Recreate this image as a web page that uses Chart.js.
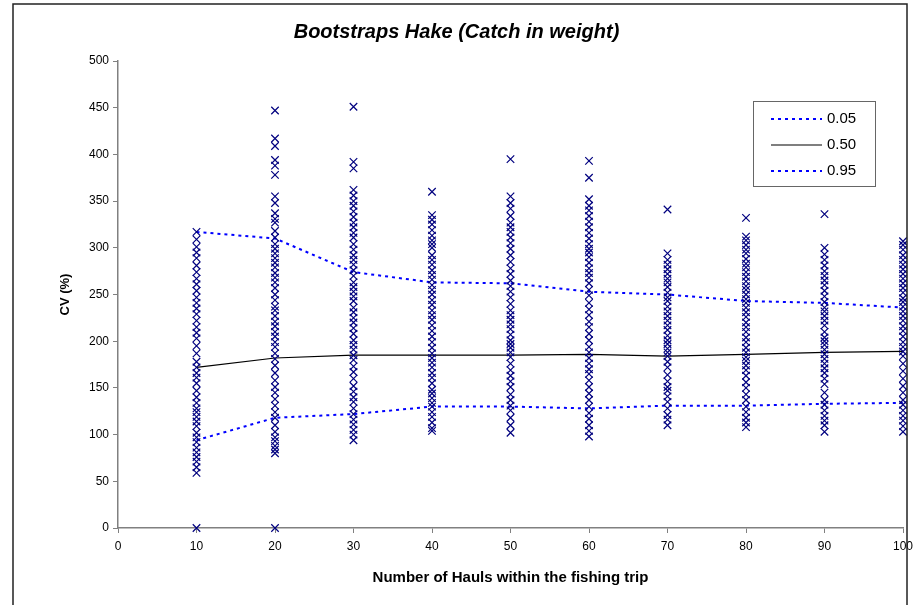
<!DOCTYPE html>
<html>
<head>
<meta charset="utf-8">
<script src="https://cdn.jsdelivr.net/npm/chart.js@4.4.1/dist/chart.umd.min.js"></script>
<style>
  html, body { margin: 0; padding: 0; background: #ffffff; }
  #wrap { width: 914px; height: 605px; position: relative; }
</style>
</head>
<body>
<div id="wrap"><canvas id="cv"></canvas></div>
<script>
const FONT = "'Liberation Sans', Arial, sans-serif";

// Number of hauls (x categories)
const hauls = [10, 20, 30, 40, 50, 60, 70, 80, 90, 100];

// Quantile lines (CV %)
const q05 = [94, 118, 122, 130, 130, 128, 131, 131, 133, 134];
const q50 = [172, 182, 185, 185, 185, 186, 184, 186, 188, 189];
const q95 = [317, 310, 274, 263, 262, 253, 250, 243, 241, 236];

// Bootstrap CV samples for each number of hauls
const cv10 = [0, 59, 65, 71, 76, 81, 86, 92, 97, 102, 109, 114, 119, 124, 128, 134, 140, 147, 155, 161, 166, 172, 178, 187, 195, 203, 209, 215, 222, 229, 235, 241, 247, 254, 261, 267, 274, 281, 289, 295, 301, 309, 317];
const cv20 = [0, 80, 84, 88, 93, 97, 103, 110, 118, 124, 131, 138, 145, 151, 158, 166, 174, 181, 187, 194, 199, 205, 210, 216, 221, 227, 233, 237, 244, 250, 257, 263, 268, 273, 279, 284, 289, 294, 299, 304, 311, 318, 327, 331, 337, 348, 355, 378, 388, 394, 409, 417, 447];
const cv30 = [94, 100, 105, 111, 116, 122, 128, 135, 140, 146, 152, 160, 167, 173, 180, 185, 191, 196, 201, 208, 214, 220, 225, 231, 236, 243, 248, 253, 258, 263, 270, 276, 282, 287, 292, 298, 304, 311, 316, 322, 327, 333, 339, 345, 350, 356, 362, 385, 392, 451];
const cv40 = [104, 107, 113, 119, 124, 130, 134, 139, 144, 148, 155, 161, 166, 172, 177, 182, 187, 193, 199, 205, 211, 217, 223, 228, 233, 239, 244, 250, 255, 260, 266, 271, 276, 282, 287, 292, 300, 304, 308, 313, 319, 325, 330, 335, 360];
const cv50 = [102, 110, 118, 126, 131, 137, 143, 151, 157, 163, 169, 176, 183, 188, 193, 197, 201, 207, 213, 218, 223, 228, 233, 240, 247, 253, 259, 265, 272, 278, 285, 292, 299, 305, 311, 317, 322, 327, 334, 342, 348, 355, 395];
const cv60 = [98, 104, 110, 117, 123, 130, 137, 144, 151, 158, 165, 170, 176, 182, 188, 194, 201, 208, 215, 221, 228, 234, 241, 249, 255, 262, 268, 273, 278, 284, 290, 295, 299, 304, 310, 316, 322, 328, 334, 340, 345, 352, 375, 393];
const cv70 = [110, 116, 121, 128, 135, 141, 147, 151, 157, 164, 172, 178, 184, 188, 192, 197, 201, 206, 212, 217, 222, 227, 232, 237, 243, 247, 252, 258, 263, 267, 272, 277, 282, 287, 294, 341];
const cv80 = [108, 113, 118, 124, 130, 137, 143, 150, 156, 163, 169, 174, 179, 183, 188, 193, 199, 204, 210, 215, 220, 226, 231, 236, 241, 245, 250, 255, 259, 264, 269, 274, 279, 283, 288, 294, 298, 303, 308, 312, 332];
const cv90 = [103, 110, 115, 120, 126, 132, 137, 145, 154, 160, 166, 171, 176, 181, 186, 191, 196, 200, 204, 210, 217, 222, 227, 232, 236, 242, 248, 254, 260, 265, 270, 275, 281, 287, 293, 300, 336];
const cv100 = [103, 109, 115, 120, 126, 132, 137, 145, 152, 160, 168, 176, 184, 189, 194, 199, 205, 211, 216, 222, 227, 232, 237, 242, 246, 252, 257, 262, 267, 272, 277, 282, 287, 292, 298, 303, 307];

const samples = [cv10, cv20, cv30, cv40, cv50, cv60, cv70, cv80, cv90, cv100];

function toPoints(vals) {
  return hauls.map((h, i) => ({ x: h, y: vals[i] }));
}

let scatterPts = [];
samples.forEach((col, i) => {
  col.forEach((v) => scatterPts.push({ x: hauls[i], y: v }));
});

// outer frame
const framePlugin = {
  id: "frame",
  afterDraw(chart) {
    const ctx = chart.ctx;
    ctx.save();
    ctx.strokeStyle = "#222222";
    ctx.lineWidth = 1.5;
    ctx.strokeRect(13, 4, 894, 620);
    ctx.restore();
  },
};

// legend box inside the plot, top right
const boxLegend = {
  id: "boxLegend",
  afterDraw(chart) {
    const ctx = chart.ctx;
    const items = chart.data.datasets.filter((d) => d.label);
    const x0 = 753, y0 = 101, w = 122, h = 85;
    ctx.save();
    ctx.fillStyle = "#ffffff";
    ctx.fillRect(x0, y0, w, h);
    ctx.strokeStyle = "#666666";
    ctx.lineWidth = 1;
    ctx.strokeRect(x0 + 0.5, y0 + 0.5, w, h);
    items.forEach((d, i) => {
      const y = y0 + 18 + i * 26;
      ctx.beginPath();
      ctx.strokeStyle = d.borderColor;
      ctx.lineWidth = d.borderWidth;
      ctx.setLineDash(d.borderDash || []);
      ctx.moveTo(771, y);
      ctx.lineTo(822, y);
      ctx.stroke();
      ctx.setLineDash([]);
      ctx.fillStyle = "#000000";
      ctx.font = "15px " + FONT;
      ctx.textBaseline = "middle";
      ctx.fillText(d.label, 827, y);
    });
    ctx.restore();
  },
};

new Chart(document.getElementById("cv"), {
  type: "scatter",
  data: {
    datasets: [
      {
        data: scatterPts,
        pointStyle: "crossRot",
        pointRadius: 5.3,
        pointHoverRadius: 5.3,
        borderColor: "#00007f",
        backgroundColor: "#00007f",
        borderWidth: 1.2,
        clip: false,
        order: 0,
      },
      {
        label: "0.05",
        data: toPoints(q05),
        showLine: true,
        borderColor: "#0000ff",
        borderWidth: 2,
        borderDash: [3, 4],
        pointRadius: 0,
        order: 1,
      },
      {
        label: "0.50",
        data: toPoints(q50),
        showLine: true,
        borderColor: "#000000",
        borderWidth: 1.2,
        pointRadius: 0,
        order: 1,
      },
      {
        label: "0.95",
        data: toPoints(q95),
        showLine: true,
        borderColor: "#0000ff",
        borderWidth: 2,
        borderDash: [3, 4],
        pointRadius: 0,
        order: 1,
      },
    ],
  },
  options: {
    responsive: true,
    maintainAspectRatio: false,
    animation: false,
    layout: { padding: { left: 10, right: 11, top: 0, bottom: 0 } },
    plugins: {
      legend: { display: false },
      tooltip: { enabled: false },
      title: {
        display: true,
        text: "Bootstraps Hake (Catch in weight)",
        color: "#000000",
        font: { family: FONT, size: 20, weight: "bold", style: "italic" },
        padding: { top: 20, bottom: 17 },
      },
    },
    scales: {
      x: {
        type: "linear",
        min: 0,
        max: 100,
        ticks: {
          stepSize: 10,
          color: "#000000",
          font: { family: FONT, size: 12 },
          padding: 6,
          maxRotation: 0,
        },
        grid: {
          drawOnChartArea: false,
          drawTicks: true,
          tickLength: 5,
          color: "#808080",
        },
        border: { color: "#808080", width: 1.5 },
        title: {
          display: true,
          text: "Number of Hauls within the fishing trip",
          color: "#000000",
          font: { family: FONT, size: 15, weight: "bold" },
          padding: { top: 0, bottom: 18 },
        },
        afterFit(scale) {
          scale.height = 77;
          scale.paddingRight = 0;
          scale.paddingLeft = 0;
        },
      },
      y: {
        min: 0,
        max: 500,
        ticks: {
          stepSize: 50,
          color: "#000000",
          font: { family: FONT, size: 12 },
          padding: 4,
        },
        grid: {
          drawOnChartArea: false,
          drawTicks: true,
          tickLength: 5,
          color: "#808080",
        },
        border: { color: "#808080", width: 1.5 },
        title: {
          display: true,
          text: "CV (%)",
          color: "#000000",
          font: { family: FONT, size: 13, weight: "bold" },
          padding: { top: 48, bottom: 0 },
        },
        afterFit(scale) {
          scale.width = 108;
        },
      },
    },
  },
  plugins: [framePlugin, boxLegend],
});
</script>
</body>
</html>
